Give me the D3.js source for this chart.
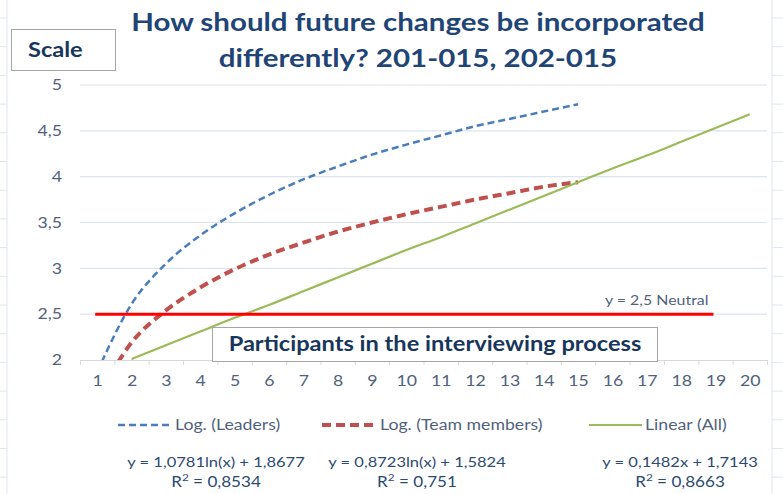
<!DOCTYPE html>
<html>
<head>
<meta charset="utf-8">
<script src="https://cdn.jsdelivr.net/npm/d3@7"></script>
<style>
  body { margin: 0; background: #fff; }
  text { font-family: Lato, "Open Sans", sans-serif; }
</style>
</head>
<body>
<script>
const width = 783,
    height = 494;

// categories on the x axis
const categories = d3.range(1, 21);
const yTicks = [2, 2.5, 3, 3.5, 4, 4.5, 5];

// trend line values read at each category
const leadersX = [1, 2, 3, 4, 5, 6, 7, 8, 9, 10, 11, 12, 13, 14, 15];
const leadersY = [1.87, 2.61, 3.05, 3.36, 3.60, 3.80, 3.97, 4.11, 4.24, 4.35, 4.45, 4.55, 4.63, 4.71, 4.79];
const teamX = [1, 2, 3, 4, 5, 6, 7, 8, 9, 10, 11, 12, 13, 14, 15];
const teamY = [1.58, 2.19, 2.54, 2.79, 2.99, 3.15, 3.28, 3.40, 3.50, 3.59, 3.67, 3.75, 3.82, 3.89, 3.94];
const allX = [2, 3, 4, 5, 6, 7, 8, 9, 10, 11, 12, 13, 14, 15, 16, 17, 18, 19, 20];
const allY = [2.01, 2.16, 2.31, 2.46, 2.60, 2.75, 2.90, 3.05, 3.20, 3.34, 3.49, 3.64, 3.79, 3.94, 4.09, 4.23, 4.38, 4.53, 4.68];
const neutralX = [1, 19];
const neutralY = [2.5, 2.5];

const legendLabels = ["Log. (Leaders)", "Log. (Team members)", "Linear (All)"];
const equations = ["y = 1,0781ln(x) + 1,8677", "y = 0,8723ln(x) + 1,5824", "y = 0,1482x + 1,7143"];
const rSquared = ["0,8534", "0,751", "0,8663"];

const titleLines = ["How should future changes be incorporated", "differently? 201-015, 202-015"];

const navy = "#1f4576",
    axisText = "#52627c",
    fmt = d => String(d).replace(".", ","),
    sx = 1.18;

// the picture's lettering is wider than Lato, so stretch text sideways
const stretch = sel => sel.each(function () {
    const t = d3.select(this),
        tx = +t.attr("x") || 0,
        ty = +t.attr("y") || 0;
    t.attr("x", 0).attr("y", 0)
        .attr("transform", "translate(" + tx + "," + ty + ") scale(" + sx + ",1)");
});

const svg = d3.select("body").append("svg")
    .attr("width", width)
    .attr("height", height);

const x = d3.scaleLinear().domain([0.5, 20.5]).range([80, 767]),
    y = d3.scaleLinear().domain([2, 5]).range([360, 85]);

// faint sheet edges left and right
const edgeTicks = d3.range(18, 494, 28.7);
svg.append("line").attr("x1", 7).attr("x2", 7).attr("y1", 0).attr("y2", height)
    .attr("stroke", "#dfe5f0");
svg.append("line").attr("x1", 772).attr("x2", 772).attr("y1", 0).attr("y2", height)
    .attr("stroke", "#dfe5f0");
svg.selectAll(".edgeL").data(edgeTicks).enter().append("line")
    .attr("x1", 0).attr("x2", 7).attr("y1", d => d).attr("y2", d => d)
    .attr("stroke", "#dfe5f0");
svg.selectAll(".edgeR").data(edgeTicks).enter().append("line")
    .attr("x1", 772).attr("x2", 783).attr("y1", d => d).attr("y2", d => d)
    .attr("stroke", "#dfe5f0");

// gridlines
svg.append("g")
    .selectAll("line")
    .data(yTicks.filter(d => d > 2))
    .enter().append("line")
    .attr("x1", x(0.5)).attr("x2", x(20.5))
    .attr("y1", d => y(d)).attr("y2", d => y(d))
    .attr("stroke", "#dde4ef")
    .attr("stroke-width", 1.2);

// y axis labels
svg.append("g")
    .attr("transform", "translate(" + x(0.5) + ",0)")
    .call(d3.axisLeft(y).tickValues(yTicks).tickSize(0).tickPadding(18).tickFormat(fmt))
    .call(g => g.select(".domain").remove())
    .call(g => g.selectAll("text")
        .attr("fill", axisText)
        .style("font-size", "15px")
        .style("font-family", "Lato, sans-serif")
        .call(stretch));

// x axis
svg.append("g")
    .attr("transform", "translate(0," + y(2) + ")")
    .call(d3.axisBottom(x).tickValues(d3.range(0.5, 21, 1)).tickSize(5).tickFormat(""))
    .call(g => g.selectAll("line,path").attr("stroke", "#d9d9d9"));
svg.append("g")
    .attr("transform", "translate(0," + y(2) + ")")
    .call(d3.axisBottom(x).tickValues(categories).tickSize(0).tickPadding(15).tickFormat(d3.format("d")))
    .call(g => g.select(".domain").remove())
    .call(g => g.selectAll("text")
        .attr("fill", axisText)
        .style("font-size", "15px")
        .style("font-family", "Lato, sans-serif")
        .call(stretch));

// clip curves to plot area
svg.append("clipPath").attr("id", "plot")
    .append("rect")
    .attr("x", x(0.5)).attr("y", y(5) - 20)
    .attr("width", x(20.5) - x(0.5)).attr("height", y(2) - y(5) + 20);

const line = d3.line()
    .x(d => x(d[0]))
    .y(d => y(d[1]))
    .curve(d3.curveMonotoneX);

const series = [
    { xs: leadersX, ys: leadersY, color: "#4a7ebb", w: 2.5, dash: "7,4" },
    { xs: teamX, ys: teamY, color: "#c0504d", w: 4, dash: "9,5" },
    { xs: allX, ys: allY, color: "#9bbb59", w: 2.2, dash: null }
];

const plotG = svg.append("g").attr("clip-path", "url(#plot)");
series.forEach(s => {
    plotG.append("path")
        .datum(d3.zip(s.xs, s.ys))
        .attr("d", line)
        .attr("fill", "none")
        .attr("stroke", s.color)
        .attr("stroke-width", s.w)
        .attr("stroke-dasharray", s.dash);
});

// neutral line
svg.append("path")
    .datum(d3.zip(neutralX, neutralY))
    .attr("d", d3.line().x(d => x(d[0]) - 2).y(d => y(d[1])))
    .attr("stroke", "#ff0000")
    .attr("stroke-width", 3);
svg.append("text")
    .attr("x", x(19) - 7).attr("y", y(2.5) - 9)
    .attr("text-anchor", "end")
    .attr("fill", axisText)
    .style("font-size", "13.5px")
    .text("y = " + fmt(neutralY[0]) + " Neutral")
    .call(stretch);

// title
svg.selectAll(".title").data(titleLines).enter().append("text")
    .attr("x", 418)
    .attr("y", (d, i) => 31 + i * 36)
    .attr("text-anchor", "middle")
    .attr("fill", navy)
    .style("font-size", "25px")
    .style("font-weight", "bold")
    .text(d => d)
    .call(stretch);

// Scale box
svg.append("rect")
    .attr("x", 11.5).attr("y", 29.5).attr("width", 104).attr("height", 41)
    .attr("fill", "#fff").attr("stroke", "#a6a6a6");
svg.append("text")
    .attr("x", 28).attr("y", 57)
    .attr("fill", "#17365d")
    .style("font-size", "20px")
    .style("font-weight", "bold")
    .text("Scale")
    .call(stretch);

// axis title box
svg.append("rect")
    .attr("x", 212.5).attr("y", 327.5).attr("width", 445).attr("height", 34)
    .attr("fill", "#fff").attr("stroke", "#a6a6a6");
svg.append("text")
    .attr("x", 435).attr("y", 351)
    .attr("text-anchor", "middle")
    .attr("fill", "#17365d")
    .style("font-size", "20px")
    .style("font-weight", "bold")
    .text("Participants in the interviewing process")
    .call(stretch);

// legend
const legendPos = [{ sx: 118, sw: 54 }, { sx: 322, sw: 55 }, { sx: 589, sw: 53 }];
legendPos.forEach((p, i) => {
    svg.append("line")
        .attr("x1", p.sx).attr("x2", p.sx + p.sw)
        .attr("y1", 425).attr("y2", 425)
        .attr("stroke", series[i].color)
        .attr("stroke-width", series[i].w)
        .attr("stroke-dasharray", series[i].dash);
    svg.append("text")
        .attr("x", p.sx + p.sw + 3).attr("y", 430)
        .attr("fill", axisText)
        .style("font-size", "15px")
        .text(legendLabels[i])
        .call(stretch);
});

// equations
const eqCenters = [216, 417, 680];
equations.forEach((e, i) => {
    svg.append("text")
        .attr("x", eqCenters[i]).attr("y", 467)
        .attr("text-anchor", "middle")
        .attr("fill", "#2c4a72")
        .style("font-size", "14px")
        .text(e)
        .call(stretch);
    const r = svg.append("text")
        .attr("x", eqCenters[i]).attr("y", 487)
        .attr("text-anchor", "middle")
        .attr("fill", "#2c4a72")
        .style("font-size", "14.5px");
    r.append("tspan").text("R");
    r.append("tspan").attr("dy", -6).style("font-size", "10px").text("2");
    r.append("tspan").attr("dy", 6).text(" = " + rSquared[i]);
    r.call(stretch);
});
</script>
</body>
</html>
